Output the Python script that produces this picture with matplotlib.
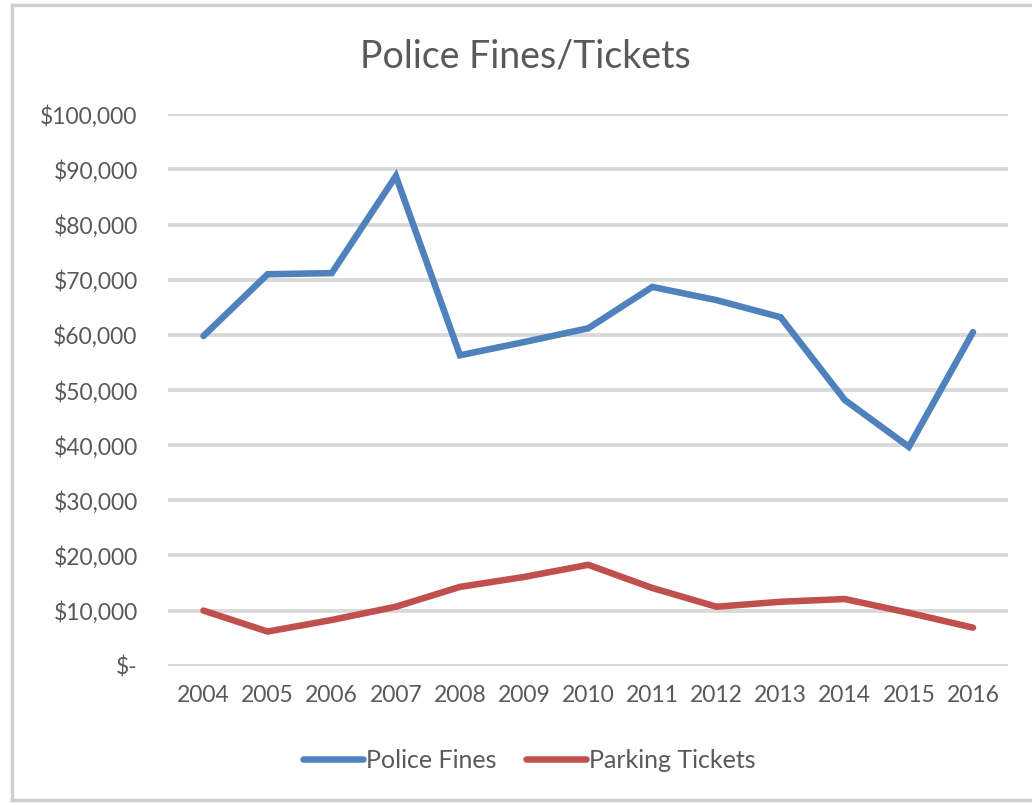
import matplotlib.pyplot as plt
from matplotlib.lines import Line2D

years = ['2004', '2005', '2006', '2007', '2008', '2009', '2010',
         '2011', '2012', '2013', '2014', '2015', '2016']
police_fines = [59800, 71000, 71200, 88800, 56300, 58700, 61200,
                68700, 66300, 63200, 48200, 39700, 60500]
parking_tickets = [10000, 6200, 8300, 10700, 14300, 16100, 18300,
                   14100, 10700, 11600, 12100, 9600, 6900]
y_ticks = [0, 10000, 20000, 30000, 40000, 50000, 60000, 70000, 80000, 90000, 100000]

text_gray = '#595959'
plt.rcParams['font.family'] = ['Lato', 'DejaVu Sans']

fig = plt.figure(figsize=(10.32, 8.05), dpi=100)
ax = fig.add_axes([0.163, 0.173, 0.814, 0.685])

x = range(len(years))
ax.plot(x, police_fines, color='#4F81BD', linewidth=4.7, label='Police Fines',
        solid_capstyle='round', solid_joinstyle='miter', zorder=3)
ax.plot(x, parking_tickets, color='#C0504D', linewidth=4.7, label='Parking Tickets',
        solid_capstyle='round', solid_joinstyle='miter', zorder=3)

ax.set_xlim(-0.55, len(years) - 0.45)
ax.set_ylim(0, 100000)
ax.set_xticks(list(x))
ax.set_xticklabels(years)
ax.set_yticks(y_ticks)
ax.set_yticklabels(['$-' if v == 0 else '${:,}'.format(v) for v in y_ticks])
ax.tick_params(axis='y', length=0, pad=22, labelsize=16.5, labelcolor=text_gray)
ax.tick_params(axis='x', length=0, pad=14, labelsize=16.5, labelcolor=text_gray)
ax.yaxis.grid(True, color='#D9D9D9', linewidth=2.8)
ax.set_axisbelow(True)
for s in ax.spines.values():
    s.set_visible(False)

fig.text(0.509, 0.93, 'Police Fines/Tickets', ha='center', va='center',
         fontsize=27, color=text_gray)

handles = [Line2D([0], [0], color='#4F81BD', linewidth=4.7, solid_capstyle='round'),
           Line2D([0], [0], color='#C0504D', linewidth=4.7, solid_capstyle='round')]
fig.legend(handles, ['Police Fines', 'Parking Tickets'], loc='center',
           bbox_to_anchor=(0.513, 0.055), ncol=2, frameon=False, fontsize=18,
           labelcolor=text_gray, handlelength=2.4, handletextpad=0.1, columnspacing=1.2)

# outer frame (top, left, bottom)
frame_kw = dict(color='#CFCFCF', linewidth=2.5, transform=fig.transFigure)
fig.add_artist(Line2D([0.012, 1.0], [0.994, 0.994], **frame_kw))
fig.add_artist(Line2D([0.012, 0.012], [0.006, 0.994], **frame_kw))
fig.add_artist(Line2D([0.012, 1.0], [0.006, 0.006], **frame_kw))

fig.savefig('out.png', dpi=100, facecolor='white')
